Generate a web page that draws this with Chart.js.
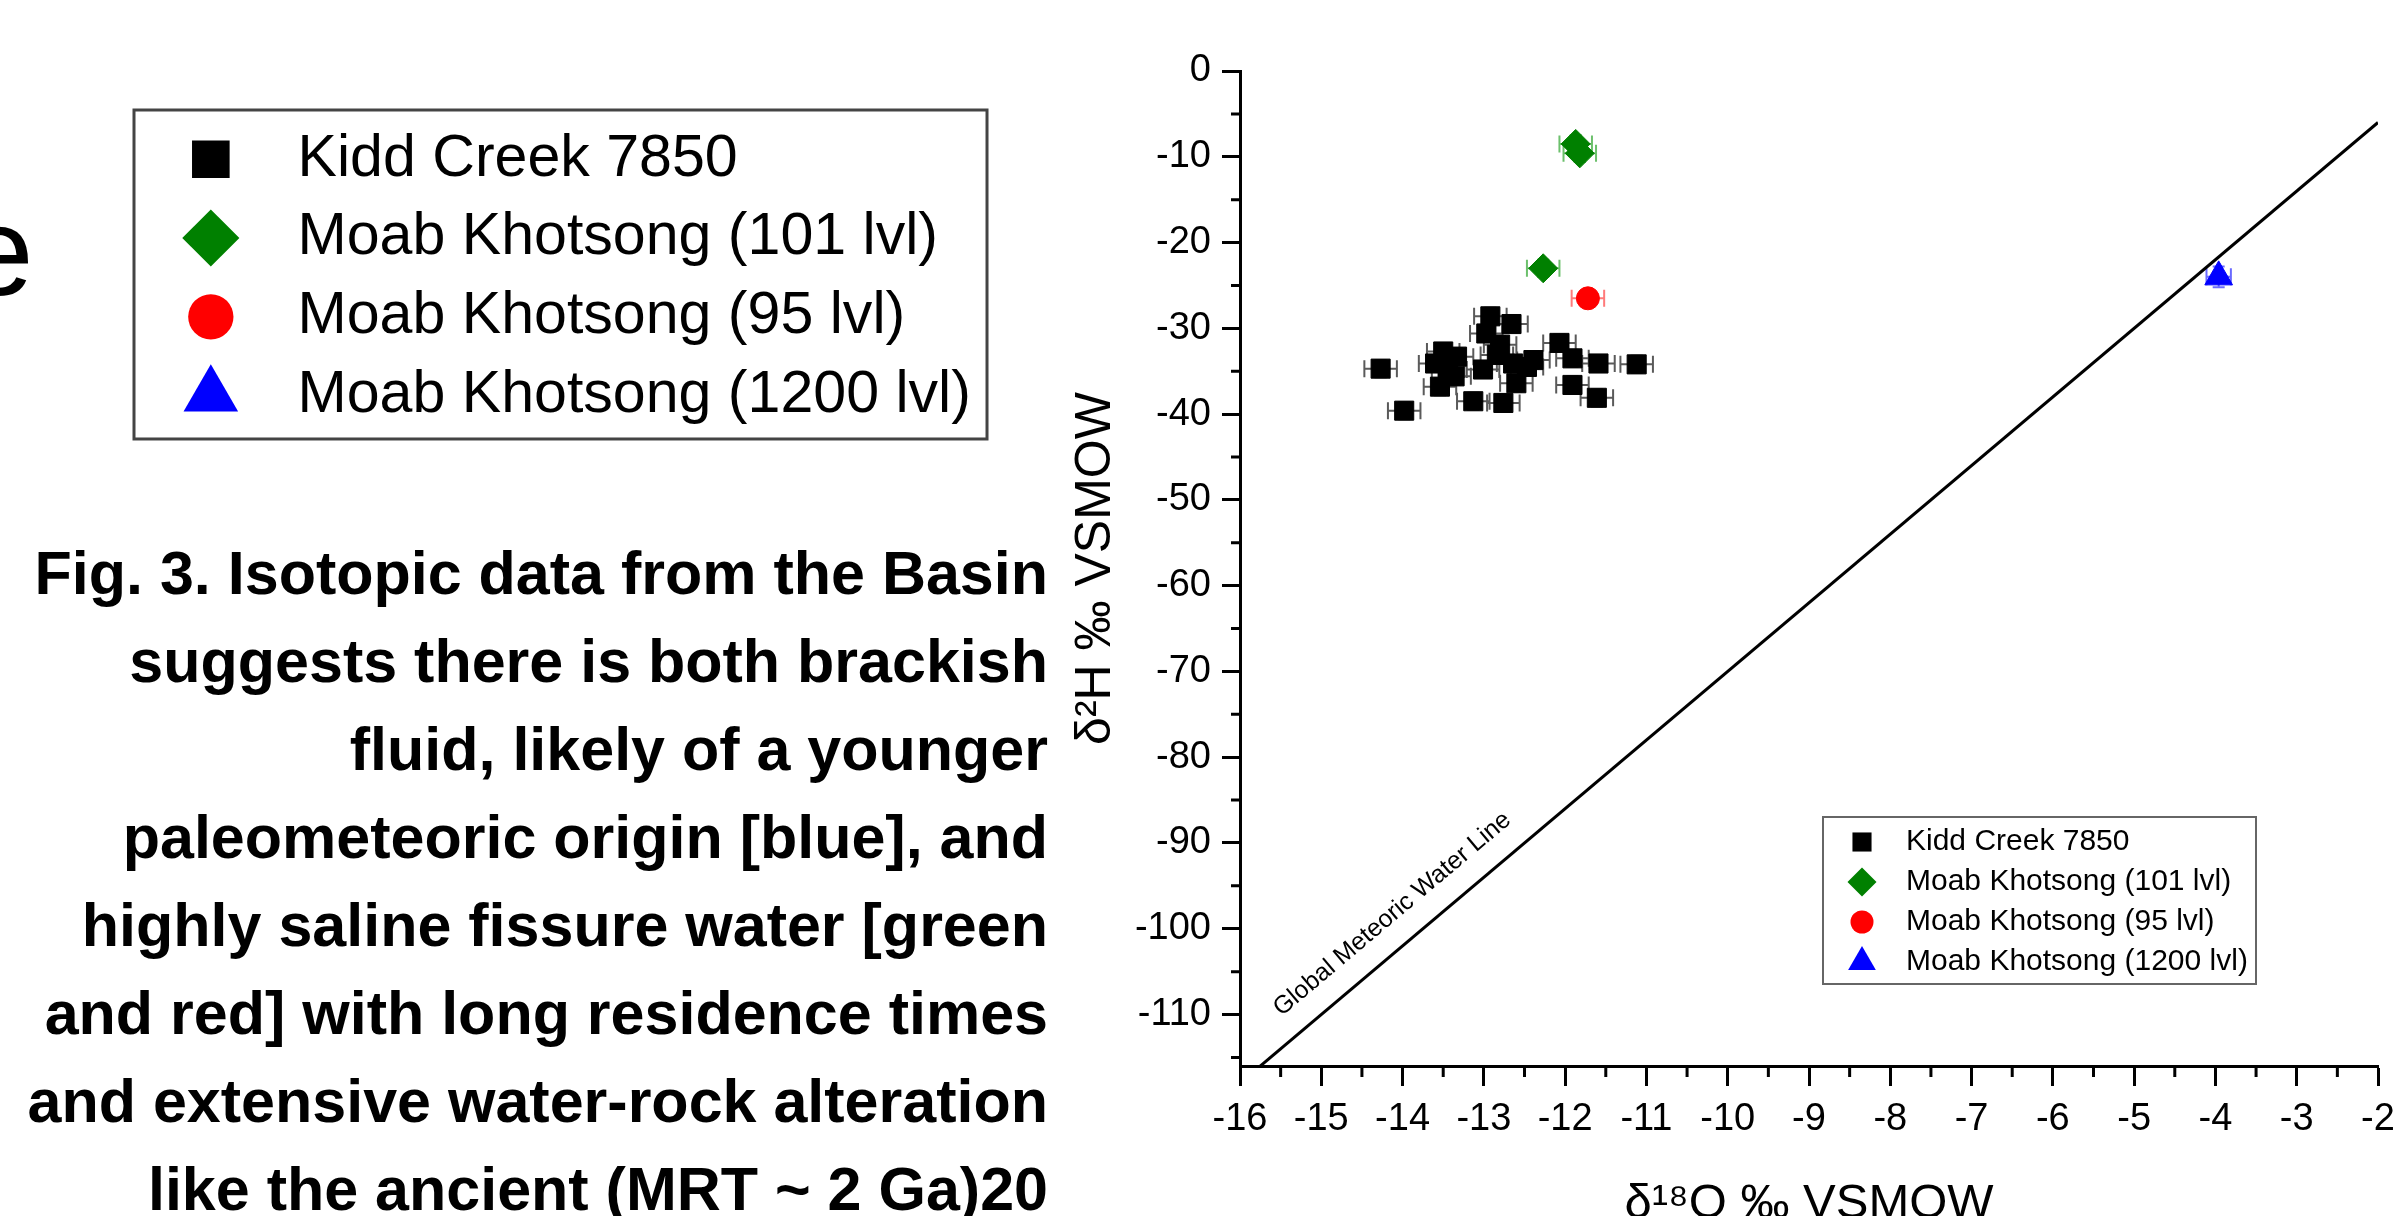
<!DOCTYPE html>
<html>
<head>
<meta charset="utf-8">
<title>Isotopic data from the Basin</title>
<script src="https://cdn.jsdelivr.net/npm/chart.js@4.4.0/dist/chart.umd.min.js"></script>
<style>
  html, body { margin: 0; padding: 0; background: #fff; overflow: hidden; }
  #page { position: relative; width: 2407px; height: 1216px; }
  #chart { position: absolute; left: 0; top: 0; }
  .frag { position: absolute; left: -37px; top: 188px; font: 127px/1 'Liberation Sans', Arial, sans-serif; color: #000; }
  .caption { position: absolute; right: 1359px; top: 529px; text-align: right; white-space: nowrap;
             font: bold 61px/88px 'Liberation Sans', Arial, sans-serif; color: #000; }
</style>
</head>
<body>
<div id="page">
  <canvas id="chart" width="2407" height="1216"></canvas>
  <div class="frag">e</div>
  <div class="caption">
    <div>Fig. 3. Isotopic data from the Basin</div>
    <div>suggests there is both brackish</div>
    <div>fluid, likely of a younger</div>
    <div>paleometeoric origin [blue], and</div>
    <div>highly saline fissure water [green</div>
    <div>and red] with long residence times</div>
    <div>and extensive water-rock alteration</div>
    <div>like the ancient (MRT ~ 2 Ga)20</div>
  </div>
</div>
<script>
const seriesNames = ['Kidd Creek 7850', 'Moab Khotsong (101 lvl)', 'Moab Khotsong (95 lvl)', 'Moab Khotsong (1200 lvl)'];

const kiddX = [-14.27, -13.98, -12.92, -12.66, -12.97, -13.50, -13.33, -13.60, -12.80, -13.01, -13.36, -13.54, -12.64,
               -12.39, -12.60, -13.13, -12.76, -12.07, -11.91, -11.59, -11.12, -11.91, -11.61, -12.47, -12.84, -13.44];
const kiddY = [-34.7, -39.6, -28.6, -29.5, -30.6, -32.7, -33.3, -34.1, -31.9, -34.8, -35.6, -36.8, -34.1,
               -33.7, -36.4, -38.5, -38.7, -31.7, -33.5, -34.1, -34.2, -36.6, -38.1, -34.5, -33.1, -34.8];
const moab101X = [-11.87, -11.82, -12.27];
const moab101Y = [-8.5, -9.6, -23.0];
const moab95X = [-11.72];
const moab95Y = [-26.5];
const moab1200X = [-3.96];
const moab1200Y = [-24.0];

// error per series (permil)
const xErr = [0.2, 0.2, 0.2, 0.15];
const yErr = [1, 1, 1, 1.2];

// global meteoric water line end points
const gmwlX = [-16, -2];
const gmwlY = [-118, -6];
const gmwlLabel = 'Global Meteoric Water Line';

const seriesX = [kiddX, moab101X, moab95X, moab1200X];
const seriesY = [kiddY, moab101Y, moab95Y, moab1200Y];

const FONT = "'Liberation Sans', Arial, Helvetica, sans-serif";
const seriesStyle = [
    { color: '#000000', bar: '#5a5a5a', shape: 'rect', r: 13.5 },
    { color: '#008000', bar: '#6cc06c', shape: 'rectRot', r: 14.5 },
    { color: '#ff0000', bar: '#ff7a7a', shape: 'circle', r: 11.5 },
    { color: '#0000ff', bar: '#6a6aff', shape: 'triangle', r: 16 }
];

function toPoints(xs, ys) {
    return xs.map((x, i) => ({ x: x, y: ys[i] }));
}

function drawMarker(ctx, shape, x, y, r, color) {
    ctx.beginPath();
    if (shape === 'rect') {
        const h = r * Math.SQRT1_2;
        ctx.rect(x - h, y - h, 2 * h, 2 * h);
    } else if (shape === 'rectRot') {
        ctx.moveTo(x, y - r);
        ctx.lineTo(x + r, y);
        ctx.lineTo(x, y + r);
        ctx.lineTo(x - r, y);
        ctx.closePath();
    } else if (shape === 'circle') {
        ctx.arc(x, y, r, 0, Math.PI * 2);
    } else {
        ctx.moveTo(x, y - r);
        ctx.lineTo(x + r * 0.866, y + r / 2);
        ctx.lineTo(x - r * 0.866, y + r / 2);
        ctx.closePath();
    }
    ctx.fillStyle = color;
    ctx.fill();
}

function drawLegend(ctx, x0, y0, s, lineW, stroke) {
    ctx.save();
    ctx.lineWidth = lineW;
    ctx.strokeStyle = stroke;
    ctx.strokeRect(x0, y0, 433 * s, 167 * s);
    ctx.font = `${30 * s}px ${FONT}`;
    ctx.textBaseline = 'middle';
    ctx.textAlign = 'left';
    seriesNames.forEach((name, i) => {
        const cy = y0 + (25 + 40 * i) * s;
        const st = seriesStyle[i];
        drawMarker(ctx, st.shape, x0 + 39 * s, cy, st.r * s, st.color);
        ctx.fillStyle = '#000';
        ctx.fillText(name, x0 + 83 * s, cy);
    });
    ctx.restore();
}

const decorPlugin = {
    id: 'decor',
    beforeDatasetsDraw(chart) {
        const ctx = chart.ctx;
        const xs = chart.scales.x, ys = chart.scales.y;
        ctx.save();
        ctx.lineWidth = 2;
        for (let i = 0; i < seriesNames.length; i++) {
            ctx.strokeStyle = seriesStyle[i].bar;
            seriesX[i].forEach((x, j) => {
                const y = seriesY[i][j];
                const px = xs.getPixelForValue(x), py = ys.getPixelForValue(y);
                const x1 = xs.getPixelForValue(x - xErr[i]), x2 = xs.getPixelForValue(x + xErr[i]);
                const y1 = ys.getPixelForValue(y - yErr[i]), y2 = ys.getPixelForValue(y + yErr[i]);
                ctx.beginPath();
                ctx.moveTo(x1, py); ctx.lineTo(x2, py);
                ctx.moveTo(x1, py - 8.5); ctx.lineTo(x1, py + 8.5);
                ctx.moveTo(x2, py - 8.5); ctx.lineTo(x2, py + 8.5);
                ctx.moveTo(px, y1); ctx.lineTo(px, y2);
                ctx.moveTo(px - 6, y1); ctx.lineTo(px + 6, y1);
                ctx.moveTo(px - 6, y2); ctx.lineTo(px + 6, y2);
                ctx.stroke();
            });
        }
        ctx.restore();
    },
    afterDatasetsDraw(chart) {
        // label along the meteoric water line
        const ctx = chart.ctx;
        const xs = chart.scales.x, ys = chart.scales.y;
        const ax = xs.getPixelForValue(gmwlX[0]), ay = ys.getPixelForValue(gmwlY[0]);
        const bx = xs.getPixelForValue(gmwlX[1]), by = ys.getPixelForValue(gmwlY[1]);
        const t = (-15.3 - gmwlX[0]) / (gmwlX[1] - gmwlX[0]);
        ctx.save();
        ctx.translate(ax + (bx - ax) * t, ay + (by - ay) * t);
        ctx.rotate(Math.atan2(by - ay, bx - ax));
        ctx.font = `25px ${FONT}`;
        ctx.fillStyle = '#000';
        ctx.textBaseline = 'alphabetic';
        ctx.fillText(gmwlLabel, 0, -24);
        ctx.restore();
    },
    afterDraw(chart) {
        const ctx = chart.ctx;
        const xs = chart.scales.x, ys = chart.scales.y;
        const area = chart.chartArea;
        ctx.save();
        ctx.strokeStyle = '#000';
        ctx.lineWidth = 3;
        ctx.beginPath();
        for (let v = xs.min + 0.5; v < xs.max; v += 1) {
            const p = xs.getPixelForValue(v);
            ctx.moveTo(p, area.bottom); ctx.lineTo(p, area.bottom + 11);
        }
        for (let v = -5; v > ys.min; v -= 10) {
            const p = ys.getPixelForValue(v);
            ctx.moveTo(area.left - 9, p); ctx.lineTo(area.left, p);
        }
        ctx.stroke();
        ctx.restore();

        drawLegend(ctx, 1823, 817, 1, 2, '#666');
        drawLegend(ctx, 134, 110, 1.97, 3, '#444');
    }
};

const datasets = seriesNames.map((name, i) => ({
    label: name,
    data: toPoints(seriesX[i], seriesY[i]),
    pointStyle: seriesStyle[i].shape,
    pointRadius: seriesStyle[i].r,
    pointHoverRadius: seriesStyle[i].r,
    backgroundColor: seriesStyle[i].color,
    borderColor: seriesStyle[i].color,
    borderWidth: 1
}));
datasets.push({
    label: 'GMWL',
    data: toPoints(gmwlX, gmwlY),
    showLine: true,
    pointRadius: 0,
    borderColor: '#000',
    borderWidth: 3
});

new Chart(document.getElementById('chart'), {
    type: 'scatter',
    data: { datasets: datasets },
    options: {
        responsive: false,
        animation: false,
        events: [],
        layout: { padding: { left: 1071, top: 71, right: 29, bottom: 0 } },
        plugins: { legend: { display: false }, tooltip: { enabled: false } },
        scales: {
            x: {
                type: 'linear',
                position: 'bottom',
                min: -16,
                max: -2,
                ticks: { stepSize: 1, includeBounds: false, autoSkip: false, maxRotation: 0, padding: 11,
                         color: '#000', font: { family: FONT, size: 38 }, callback: v => String(v) },
                grid: { drawOnChartArea: false, drawTicks: true, tickLength: 20, tickWidth: 3, tickColor: '#000' },
                border: { display: true, color: '#000', width: 3 },
                title: { display: true, text: 'δ¹⁸O ‰ VSMOW', color: '#000',
                         font: { family: FONT, size: 49, lineHeight: 0.46 }, padding: 0 },
                afterFit(scale) { scale.height = 150; }
            },
            y: {
                type: 'linear',
                position: 'left',
                min: -116,
                max: 0,
                ticks: { stepSize: 10, includeBounds: false, autoSkip: false, padding: 11,
                         color: '#000', font: { family: FONT, size: 38 }, callback: v => String(v) },
                grid: { drawOnChartArea: false, drawTicks: true, tickLength: 18, tickWidth: 3, tickColor: '#000' },
                border: { display: true, color: '#000', width: 3 },
                title: { display: true, text: 'δ²H ‰ VSMOW', color: '#000',
                         font: { family: FONT, size: 50, lineHeight: 1 }, padding: 0 },
                afterFit(scale) { scale.width = 169; }
            }
        }
    },
    plugins: [decorPlugin]
});
</script>
</body>
</html>
